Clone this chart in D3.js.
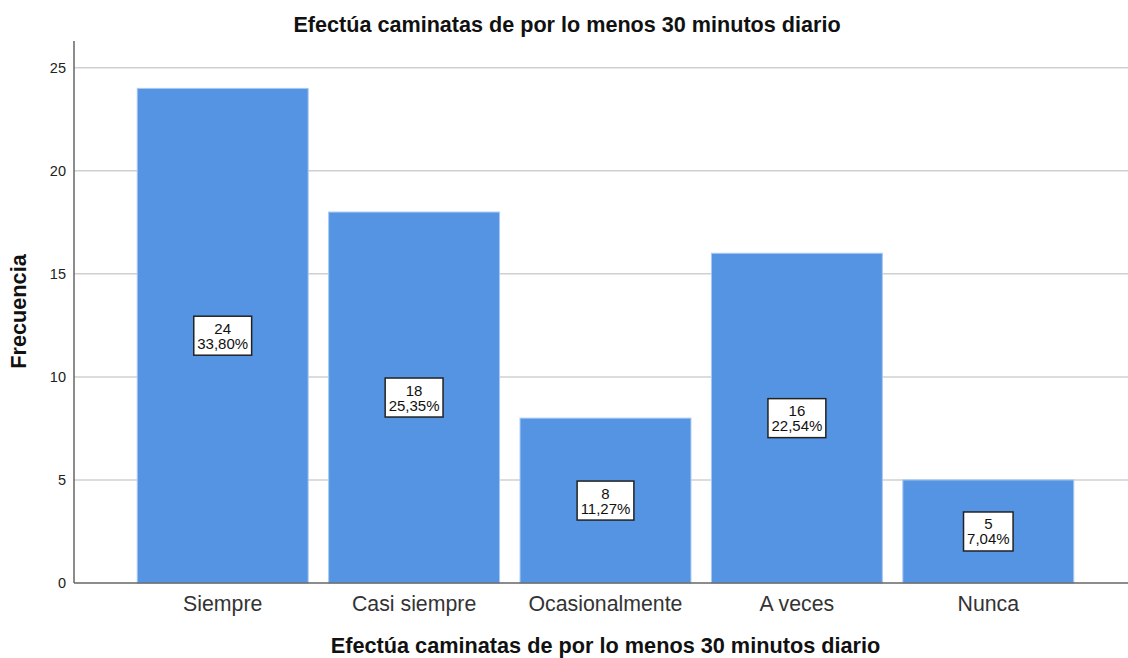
<!DOCTYPE html>
<html>
<head>
<meta charset="utf-8">
<script src="https://cdn.jsdelivr.net/npm/d3@7"></script>
<style>
  html, body { margin: 0; padding: 0; background: #fff; }
  svg { display: block; font-family: Arial, "Liberation Sans", sans-serif; }
</style>
</head>
<body>
<svg id="chart" width="1128" height="658"></svg>
<script>
// Frequencies per answer
const categories = ["Siempre", "Casi siempre", "Ocasionalmente", "A veces", "Nunca"];
const counts = [24, 18, 8, 16, 5];
const yTicks = [0, 5, 10, 15, 20, 25];
const chartTitle = "Efectúa caminatas de por lo menos 30 minutos diario";
const xTitle = "Efectúa caminatas de por lo menos 30 minutos diario";
const yTitle = "Frecuencia";

const total = d3.sum(counts);
const pct = v => d3.format(".2f")(v / total * 100).replace(".", ",") + "%";

const svg = d3.select("#chart");
const plotLeft = 74, plotRight = 1128, plotTop = 41, plotBottom = 583;

const x = d3.scaleBand()
  .domain(categories)
  .range([127, 1084])
  .paddingInner(0.107)
  .paddingOuter(0.0535);

const y = d3.scaleLinear()
  .domain([0, 26.3])
  .range([plotBottom, plotTop]);

// horizontal gridlines
svg.append("g")
  .selectAll("line")
  .data(yTicks.filter(t => t > 0))
  .join("line")
  .attr("x1", plotLeft).attr("x2", plotRight)
  .attr("y1", d => y(d)).attr("y2", d => y(d))
  .attr("stroke", "#d0d0d0")
  .attr("stroke-width", 1.5);

// bars
svg.append("g")
  .selectAll("rect")
  .data(categories.map((c, i) => ({ c, v: counts[i] })))
  .join("rect")
  .attr("x", d => x(d.c))
  .attr("y", d => y(d.v))
  .attr("width", x.bandwidth())
  .attr("height", d => y(0) - y(d.v))
  .attr("fill", "#5594e3")
  .attr("stroke", "#a8c8f2")
  .attr("stroke-width", 1);

// y axis
const yAxis = svg.append("g")
  .attr("transform", `translate(${plotLeft},0)`)
  .call(d3.axisLeft(y).tickValues(yTicks).tickSize(0).tickPadding(8));
yAxis.select(".domain").remove();
yAxis.selectAll("text")
  .attr("font-size", 14.5)
  .attr("fill", "#222")
  .attr("font-family", "Arial, 'Liberation Sans', sans-serif");
svg.append("line")
  .attr("x1", plotLeft).attr("x2", plotLeft)
  .attr("y1", plotTop).attr("y2", plotBottom)
  .attr("stroke", "#666").attr("stroke-width", 1.5);

// x axis
const xAxis = svg.append("g")
  .attr("transform", `translate(0,${plotBottom})`)
  .call(d3.axisBottom(x).tickSize(0).tickPadding(13));
xAxis.select(".domain").remove();
xAxis.selectAll("text")
  .attr("font-size", 21.3)
  .attr("fill", "#333")
  .attr("font-family", "Arial, 'Liberation Sans', sans-serif");
svg.append("line")
  .attr("x1", plotLeft).attr("x2", plotRight)
  .attr("y1", plotBottom).attr("y2", plotBottom)
  .attr("stroke", "#666").attr("stroke-width", 1.5);

// value labels: count and share of total
const labels = svg.append("g")
  .selectAll("g")
  .data(categories.map((c, i) => ({ c, v: counts[i] })))
  .join("g")
  .attr("transform", d => `translate(${x(d.c) + x.bandwidth() / 2},${y(d.v / 2)})`);

labels.each(function(d) {
  const g = d3.select(this);
  const rect = g.append("rect");
  const t1 = g.append("text")
    .attr("text-anchor", "middle")
    .attr("y", -2)
    .attr("font-size", 15)
    .attr("fill", "#111")
    .text(d.v);
  const t2 = g.append("text")
    .attr("text-anchor", "middle")
    .attr("y", 13)
    .attr("font-size", 15)
    .attr("fill", "#111")
    .text(pct(d.v));
  const w = Math.max(t1.node().getComputedTextLength(), t2.node().getComputedTextLength()) + 7;
  rect.attr("x", -w / 2).attr("y", -19.5).attr("width", w).attr("height", 39)
    .attr("fill", "#fff").attr("stroke", "#222").attr("stroke-width", 1.5);
});

// titles
svg.append("text")
  .attr("x", 567).attr("y", 31.5)
  .attr("text-anchor", "middle")
  .attr("font-size", 21.6).attr("font-weight", "bold").attr("fill", "#111")
  .text(chartTitle);

svg.append("text")
  .attr("x", 605.5).attr("y", 653)
  .attr("text-anchor", "middle")
  .attr("font-size", 21.7).attr("font-weight", "bold").attr("fill", "#111")
  .text(xTitle);

svg.append("text")
  .attr("transform", "translate(26,311.5) rotate(-90)")
  .attr("text-anchor", "middle")
  .attr("font-size", 21.7).attr("font-weight", "bold").attr("fill", "#111")
  .text(yTitle);
</script>
</body>
</html>
